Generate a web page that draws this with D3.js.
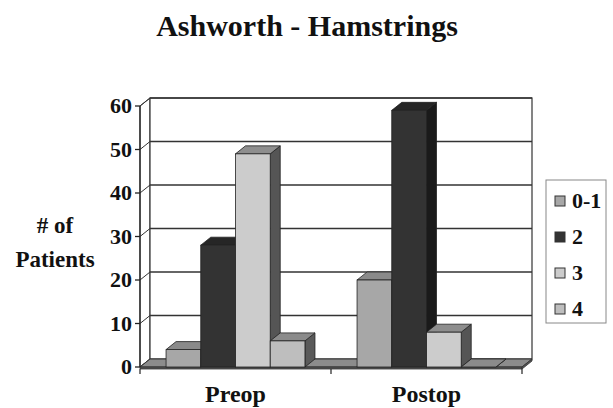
<!DOCTYPE html>
<html>
<head>
<meta charset="utf-8">
<script src="https://cdn.jsdelivr.net/npm/d3@7"></script>
<style>
  body { margin: 0; background: #fff; }
  text { font-family: "Liberation Serif", "Times New Roman", serif; font-weight: bold; fill: #111; }
</style>
</head>
<body>
<svg id="chart" width="613" height="408"></svg>
<script>
// Patient counts per Ashworth grade, before and after surgery
const categories = ["Preop", "Postop"];
const seriesNames = ["0-1", "2", "3", "4"];
const grade01 = [4, 20];
const grade2 = [28, 59];
const grade3 = [49, 8];
const grade4 = [6, 0];
const yTicks = [0, 10, 20, 30, 40, 50, 60];

const seriesValues = [grade01, grade2, grade3, grade4];

// face shades for each series: front, top, side
const frontFill = ["#a7a7a7", "#333333", "#cccccc", "#bebebe"];
const topFill   = ["#8a8a8a", "#262626", "#8e8e8e", "#8b8b8b"];
const sideFill  = ["#5c5c5c", "#1a1a1a", "#555555", "#5a5a5a"];

const svg = d3.select("#chart");

// oblique depth offset for the 3-D look
const DX = 10, DY = -8;

const x = d3.scaleBand().domain(categories).range([140, 522]);
const xs = d3.scaleBand().domain(seriesNames).range([0, x.bandwidth()])
  .paddingInner(0).paddingOuter(0.75);
const y = d3.scaleLinear().domain([0, 60]).range([367, 106]);

const y0 = y(0), yTop = y(60);
const xL = x.range()[0], xR = x.range()[1];

const poly = pts => pts.map(p => p.join(",")).join(" ");

// walls
const walls = svg.append("g");
walls.append("polygon")
  .attr("points", poly([[xL, y0], [xL + DX, y0 + DY], [xL + DX, yTop + DY], [xL, yTop]]))
  .attr("fill", "#fff").attr("stroke", "#333").attr("stroke-width", 1);
walls.append("rect")
  .attr("x", xL + DX).attr("y", yTop + DY)
  .attr("width", xR - xL).attr("height", y0 - yTop)
  .attr("fill", "#fff").attr("stroke", "#333").attr("stroke-width", 1.2);

// gridlines on back and side walls
walls.selectAll("line.grid").data(yTicks.slice(1)).join("line")
  .attr("class", "grid")
  .attr("x1", xL + DX).attr("x2", xR + DX)
  .attr("y1", d => y(d) + DY).attr("y2", d => y(d) + DY)
  .attr("stroke", "#333").attr("stroke-width", 1.3);
walls.selectAll("line.side").data(yTicks).join("line")
  .attr("class", "side")
  .attr("x1", xL).attr("x2", xL + DX)
  .attr("y1", d => y(d)).attr("y2", d => y(d) + DY)
  .attr("stroke", "#333").attr("stroke-width", 1);

// floor slab
const floor = svg.append("g");
floor.append("polygon")
  .attr("points", poly([[xL, y0], [xR, y0], [xR + DX, y0 + DY], [xL + DX, y0 + DY]]))
  .attr("fill", "#8c8c8c").attr("stroke", "#333").attr("stroke-width", 1);
floor.append("polygon")
  .attr("points", poly([[xL, y0], [xR, y0], [xR, y0 + 2], [xL, y0 + 2]]))
  .attr("fill", "#555").attr("stroke", "#333").attr("stroke-width", 0.8);
floor.append("polygon")
  .attr("points", poly([[xR, y0], [xR + DX, y0 + DY], [xR + DX, y0 + DY + 2], [xR, y0 + 2]]))
  .attr("fill", "#555").attr("stroke", "#333").attr("stroke-width", 0.8);

// value axis
const axis = svg.append("g");
axis.append("line")
  .attr("x1", xL).attr("x2", xL).attr("y1", y0).attr("y2", yTop)
  .attr("stroke", "#222").attr("stroke-width", 1.3);
axis.selectAll("line.tick").data(yTicks).join("line")
  .attr("class", "tick")
  .attr("x1", xL - 5).attr("x2", xL)
  .attr("y1", d => y(d)).attr("y2", d => y(d))
  .attr("stroke", "#222").attr("stroke-width", 1.3);
axis.selectAll("text").data(yTicks).join("text")
  .attr("x", 132).attr("y", d => y(d) + 7)
  .attr("text-anchor", "end").attr("font-size", 22)
  .text(d => d);

// category axis ticks and labels
const catTicks = [xL, ...categories.map(c => x(c) + x.bandwidth())];
svg.append("g").selectAll("line").data(catTicks).join("line")
  .attr("x1", d => d).attr("x2", d => d)
  .attr("y1", y0 + 2).attr("y2", y0 + 7)
  .attr("stroke", "#222").attr("stroke-width", 1.2);
svg.append("g").selectAll("text").data(categories).join("text")
  .attr("x", d => x(d) + x.bandwidth() / 2).attr("y", 402)
  .attr("text-anchor", "middle").attr("font-size", 24)
  .text(d => d);

// 3-D columns, drawn left to right so each front face covers the previous side face
const bars = [];
categories.forEach((c, ci) => {
  seriesNames.forEach((s, si) => {
    bars.push({ c, s, si, v: seriesValues[si][ci], x0: x(c) + xs(s) });
  });
});
bars.sort((a, b) => a.x0 - b.x0);
const w = xs.bandwidth();
const barG = svg.append("g").selectAll("g").data(bars).join("g");
barG.append("polygon")
  .attr("points", d => { const yv = y(d.v);
    return poly([[d.x0 + w, yv], [d.x0 + w + DX, yv + DY], [d.x0 + w + DX, y0 + DY], [d.x0 + w, y0]]); })
  .attr("fill", d => sideFill[d.si]).attr("stroke", "#222").attr("stroke-width", 0.8);
barG.append("polygon")
  .attr("points", d => { const yv = y(d.v);
    return poly([[d.x0, yv], [d.x0 + DX, yv + DY], [d.x0 + w + DX, yv + DY], [d.x0 + w, yv]]); })
  .attr("fill", d => topFill[d.si]).attr("stroke", "#222").attr("stroke-width", 0.8);
barG.filter(d => d.v > 0).append("rect")
  .attr("x", d => d.x0).attr("y", d => y(d.v))
  .attr("width", w).attr("height", d => y0 - y(d.v))
  .attr("fill", d => frontFill[d.si]).attr("stroke", "#222").attr("stroke-width", 0.8);

// title
svg.append("text")
  .attr("x", 307).attr("y", 36).attr("text-anchor", "middle")
  .attr("font-size", 30).text("Ashworth - Hamstrings");

// y-axis title
const yTitle = svg.append("text").attr("text-anchor", "middle").attr("font-size", 23);
yTitle.append("tspan").attr("x", 55).attr("y", 233).text("# of");
yTitle.append("tspan").attr("x", 55).attr("y", 267).text("Patients");

// legend
const legend = svg.append("g");
legend.append("rect")
  .attr("x", 546).attr("y", 180).attr("width", 60).attr("height", 143)
  .attr("fill", "#fff").attr("stroke", "#888").attr("stroke-width", 1);
const legendY = d3.scalePoint().domain(seriesNames).range([201, 309]);
const item = legend.selectAll("g").data(seriesNames).join("g")
  .attr("transform", d => `translate(0,${legendY(d)})`);
item.append("rect")
  .attr("x", 555).attr("y", -5).attr("width", 10).attr("height", 10)
  .attr("fill", (d, i) => frontFill[i]).attr("stroke", "#333").attr("stroke-width", 1);
item.append("text")
  .attr("x", 572).attr("y", 7).attr("font-size", 22)
  .text(d => d);
</script>
</body>
</html>
